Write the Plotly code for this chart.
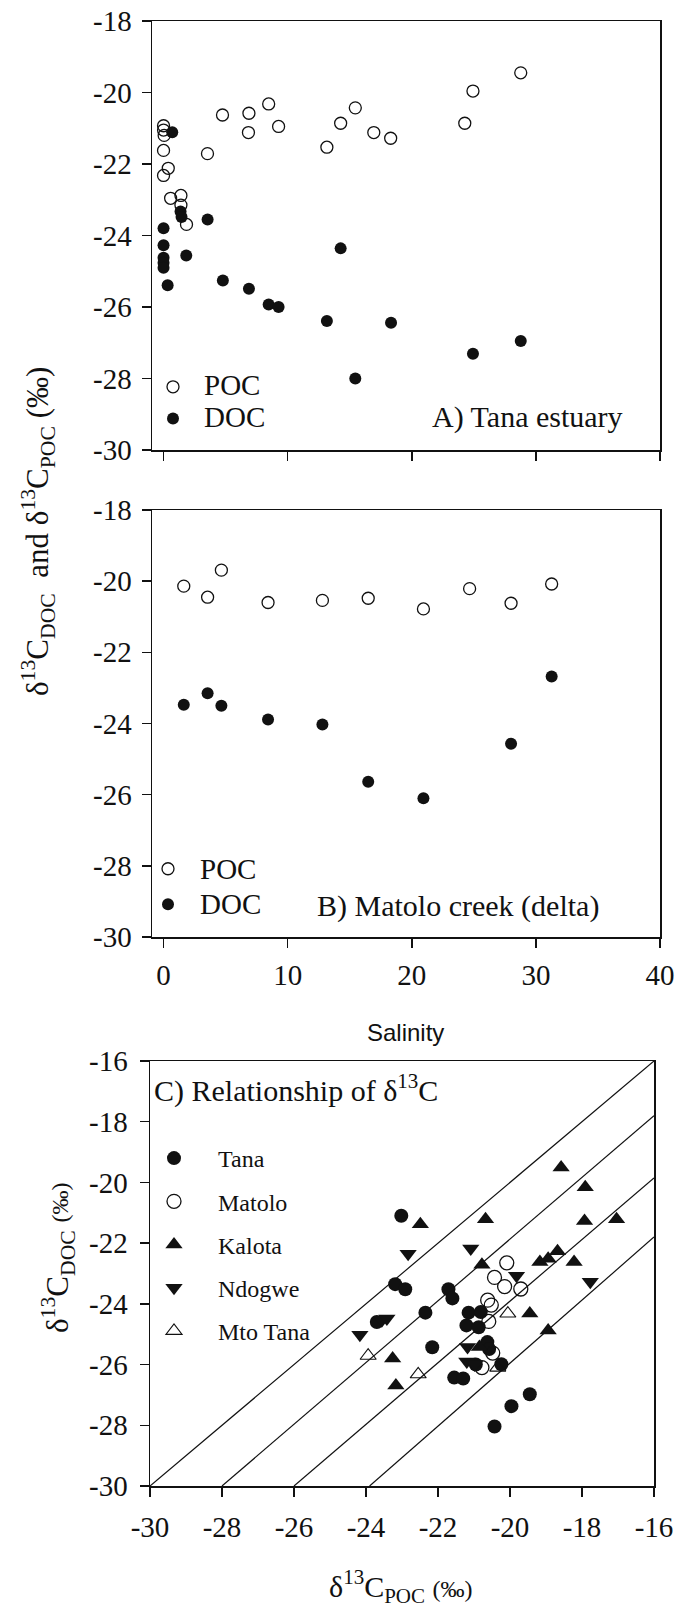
import plotly.graph_objects as go

# ---------------- Data ----------------
# Panel A: Tana estuary (salinity vs d13C)
sal_poc_A = [0, 0, 0.05, 0, 0.38, 0, 0.57, 1.40, 1.40, 1.85, 3.54, 4.75, 6.88, 6.84,
             8.47, 9.27, 13.16, 14.27, 15.45, 16.94, 18.3, 24.27, 24.93, 28.78]
poc_A = [-20.93, -21.05, -21.2, -21.62, -22.12, -22.32, -22.96, -22.88, -23.15, -23.69,
         -21.71, -20.63, -20.58, -21.12, -20.32, -20.95, -21.53, -20.86, -20.43, -21.12,
         -21.28, -20.86, -19.96, -19.45]
sal_doc_A = [0.70, 0, 0, 0, 0, 0, 0.33, 1.37, 1.45, 1.83, 3.55, 4.78, 6.88, 8.47, 9.27,
             13.16, 14.27, 15.45, 18.33, 24.93, 28.78]
doc_A = [-21.11, -23.80, -24.27, -24.62, -24.76, -24.90, -25.39, -23.33, -23.48, -24.56,
         -23.55, -25.26, -25.49, -25.93, -26.0, -26.39, -24.36, -28.0, -26.44, -27.31, -26.95]

# Panel B: Matolo creek (delta)
sal_poc_B = [1.63, 3.55, 4.66, 8.42, 12.8, 16.49, 20.94, 24.66, 28.0, 31.27]
poc_B = [-20.14, -20.45, -19.69, -20.60, -20.54, -20.48, -20.78, -20.21, -20.62, -20.08]
sal_doc_B = [1.63, 3.55, 4.66, 8.42, 12.8, 16.49, 20.94, 28.0, 31.27]
doc_B = [-23.47, -23.15, -23.50, -23.89, -24.03, -25.64, -26.10, -24.57, -22.68]

# Panel C: d13C-POC (x) vs d13C-DOC (y)
tana_x = [-23.02, -23.19, -22.91, -21.71, -21.60, -22.35, -22.16, -21.15, -20.81, -21.21,
          -20.87, -20.63, -20.58, -20.24, -20.95, -21.55, -21.30, -19.45, -19.96, -20.43, -23.70]
tana_y = [-21.10, -23.35, -23.52, -23.52, -23.82, -24.29, -25.43, -24.29, -24.27, -24.71,
          -24.77, -25.26, -25.49, -25.99, -26.0, -26.43, -26.46, -26.98, -27.37, -28.04, -24.60]
matolo_x = [-20.09, -20.43, -20.15, -19.70, -20.62, -20.52, -20.59, -20.48, -20.78]
matolo_y = [-22.65, -23.13, -23.43, -23.51, -23.88, -24.04, -24.58, -25.62, -26.10]
kalota_x = [-18.58, -17.91, -17.93, -17.04, -20.68, -22.49, -20.78, -19.17, -18.94, -18.68,
            -18.22, -19.45, -18.94, -23.26, -23.17, -20.85]
kalota_y = [-19.51, -20.16, -21.27, -21.21, -21.21, -21.38, -22.71, -22.62, -22.51, -22.27,
            -22.62, -24.32, -24.88, -25.80, -26.69, -25.42]
ndogwe_x = [-24.17, -23.56, -23.42, -22.83, -21.09, -19.82, -17.77, -21.18, -21.20, -20.98]
ndogwe_y = [-25.02, -24.54, -24.48, -22.35, -22.18, -23.07, -23.27, -25.42, -25.90, -26.0]
mto_x = [-20.06, -22.55, -20.34, -23.94]
mto_y = [-24.32, -26.32, -26.10, -25.71]

# Reference lines in panel C: start x at y=-30, end y at x=-16
line_x_start = [-30, -28, -26, -23.9]
line_y_end = [-16, -17.8, -19.85, -21.8]

y_ticks_AB = [-30, -28, -26, -24, -22, -20, -18]
y_ticktext_AB = ["-30", "-28", "-26", "-24", "-22", "-20", "-18"]
x_ticks_AB = [0, 10, 20, 30, 40]
x_ticktext_AB = ["0", "10", "20", "30", "40"]
ticks_C = [-30, -28, -26, -24, -22, -20, -18, -16]
ticktext_C = ["-30", "-28", "-26", "-24", "-22", "-20", "-18", "-16"]

# ---------------- Layout helpers ----------------
W, H = 675, 1610
def px_x(p):
    return p / W
def px_y(p):
    return 1 - p / H

SERIF = "Liberation Serif"
SANS = "Liberation Sans"
INK = "#111111"

fig = go.Figure()

def mk(symbol, size, filled=True, lw=1.3):
    if filled:
        return dict(symbol=symbol, size=size, color=INK, line=dict(width=0))
    return dict(symbol=symbol, size=size, color=INK, line=dict(width=lw, color=INK))

BIG = '<span style="font-size:29px">%s</span>'

# Panel A
fig.add_trace(go.Scatter(x=sal_poc_A, y=poc_A, mode="markers", name=BIG % "POC",
                         marker=mk("circle-open", 12, False), xaxis="x", yaxis="y",
                         legend="legend"))
fig.add_trace(go.Scatter(x=sal_doc_A, y=doc_A, mode="markers", name=BIG % "DOC",
                         marker=mk("circle", 12), xaxis="x", yaxis="y", legend="legend"))
# Panel B
fig.add_trace(go.Scatter(x=sal_poc_B, y=poc_B, mode="markers", name=BIG % "POC",
                         marker=mk("circle-open", 12, False), xaxis="x2", yaxis="y2",
                         legend="legend2"))
fig.add_trace(go.Scatter(x=sal_doc_B, y=doc_B, mode="markers", name=BIG % "DOC",
                         marker=mk("circle", 12), xaxis="x2", yaxis="y2", legend="legend2"))
# Panel C lines
for x0, y1 in zip(line_x_start, line_y_end):
    fig.add_trace(go.Scatter(x=[x0, -16], y=[-30, y1], mode="lines",
                             line=dict(color=INK, width=1.2), showlegend=False,
                             hoverinfo="skip", xaxis="x3", yaxis="y3"))
# Panel C points
fig.add_trace(go.Scatter(x=tana_x, y=tana_y, mode="markers", name="Tana",
                         marker=mk("circle", 14), xaxis="x3", yaxis="y3",
                         legend="legend3", legendgroup="g1"))
fig.add_trace(go.Scatter(x=matolo_x, y=matolo_y, mode="markers", name="Matolo",
                         marker=mk("circle-open", 14, False), xaxis="x3", yaxis="y3",
                         legend="legend3", legendgroup="g2"))
fig.add_trace(go.Scatter(x=kalota_x, y=kalota_y, mode="markers", name="Kalota",
                         marker=mk("triangle-up", 15), xaxis="x3", yaxis="y3",
                         legend="legend3", legendgroup="g3"))
fig.add_trace(go.Scatter(x=ndogwe_x, y=ndogwe_y, mode="markers", name="Ndogwe",
                         marker=mk("triangle-down", 15), xaxis="x3", yaxis="y3",
                         legend="legend3", legendgroup="g4"))
fig.add_trace(go.Scatter(x=mto_x, y=mto_y, mode="markers", name="Mto Tana",
                         marker=mk("triangle-up-open", 14, False, 1.1), xaxis="x3", yaxis="y3",
                         legend="legend3", legendgroup="g5"))

tickfont = dict(family=SERIF, size=29, color=INK)
axis_common = dict(showline=True, mirror=True, linecolor=INK, linewidth=1.5,
                   ticks="outside", ticklen=9, tickwidth=1.5, tickcolor=INK,
                   showgrid=False, zeroline=False, tickfont=tickfont,
                   ticklabeloverflow="allow")

fig.update_layout(
    width=W, height=H, margin=dict(l=0, r=0, t=0, b=0, autoexpand=False),
    paper_bgcolor="white", plot_bgcolor="white",
    font=dict(family=SERIF, size=28, color=INK),
    xaxis=dict(domain=[px_x(152), px_x(660)], range=[-0.93, 40], tickvals=x_ticks_AB,
               showticklabels=False, anchor="y", **axis_common),
    yaxis=dict(domain=[px_y(450), px_y(21)], range=[-30, -18], tickvals=y_ticks_AB,
               ticktext=y_ticktext_AB, ticklabelstandoff=4, anchor="x", **axis_common),
    xaxis2=dict(domain=[px_x(152), px_x(660)], range=[-0.93, 40], tickvals=x_ticks_AB,
                ticktext=x_ticktext_AB, ticklabelstandoff=3, anchor="y2", **axis_common),
    yaxis2=dict(domain=[px_y(937), px_y(510)], range=[-30, -18], tickvals=y_ticks_AB,
                ticktext=y_ticktext_AB, ticklabelstandoff=4, anchor="x2", **axis_common),
    xaxis3=dict(domain=[px_x(150), px_x(654)], range=[-30, -16], tickvals=ticks_C,
                ticktext=ticktext_C, ticklabelstandoff=6, anchor="y3", **axis_common),
    yaxis3=dict(domain=[px_y(1486), px_y(1061)], range=[-30, -16], tickvals=ticks_C,
                ticktext=ticktext_C, ticklabelstandoff=6, anchor="x3", **axis_common),
    legend=dict(x=px_x(142), y=px_y(366), xanchor="left", yanchor="top",
                bgcolor="rgba(0,0,0,0)", font=dict(family=SERIF, size=22, color=INK),
                itemwidth=52, tracegroupgap=0),
    legend2=dict(x=px_x(136), y=px_y(846), xanchor="left", yanchor="top",
                 bgcolor="rgba(0,0,0,0)", font=dict(family=SERIF, size=25, color=INK),
                 itemwidth=54, tracegroupgap=0),
    legend3=dict(x=px_x(130), y=px_y(1136), xanchor="left", yanchor="top",
                 bgcolor="rgba(0,0,0,0)", font=dict(family=SERIF, size=24, color=INK),
                 itemwidth=78, tracegroupgap=9),
    showlegend=True,
)

annots = [
    dict(text="A) Tana estuary", x=px_x(625), y=px_y(417), xanchor="right", yanchor="middle",
         font=dict(family=SERIF, size=30, color=INK)),
    dict(text="B) Matolo creek (delta)", x=px_x(601), y=px_y(906), xanchor="right",
         yanchor="middle", font=dict(family=SERIF, size=30, color=INK)),
    dict(text="C) Relationship of δ<sup>13</sup>C", x=px_x(152), y=px_y(1088),
         xanchor="left", yanchor="middle", font=dict(family=SERIF, size=30, color=INK)),
    dict(text="Salinity", x=px_x(405), y=px_y(1032), xanchor="center", yanchor="middle",
         font=dict(family=SANS, size=24, color=INK)),
    dict(text="δ<sup>13</sup>C<sub>DOC</sub>  and δ<sup>13</sup>C<sub>POC</sub> (‰)",
         x=px_x(38), y=px_y(532), xanchor="center", yanchor="middle", textangle=-90,
         font=dict(family=SERIF, size=31, color=INK)),
    dict(text="δ<sup>13</sup>C<sub>DOC</sub> <span style='font-size:24px'>(‰)</span>",
         x=px_x(58), y=px_y(1257), xanchor="center", yanchor="middle", textangle=-90,
         font=dict(family=SERIF, size=31, color=INK)),
    dict(text="δ<sup>13</sup>C<sub>POC</sub> <span style='font-size:24px'>(‰)</span>",
         x=px_x(401), y=px_y(1586), xanchor="center", yanchor="middle",
         font=dict(family=SERIF, size=30, color=INK)),
]
for a in annots:
    a.update(xref="paper", yref="paper", showarrow=False)
fig.update_layout(annotations=annots)

fig.write_html(
    "out.html",
    config={"displayModeBar": False, "staticPlot": True},
    post_script="document.body.style.margin='0';document.body.style.padding='0';"
                "document.documentElement.style.overflow='hidden';",
)
